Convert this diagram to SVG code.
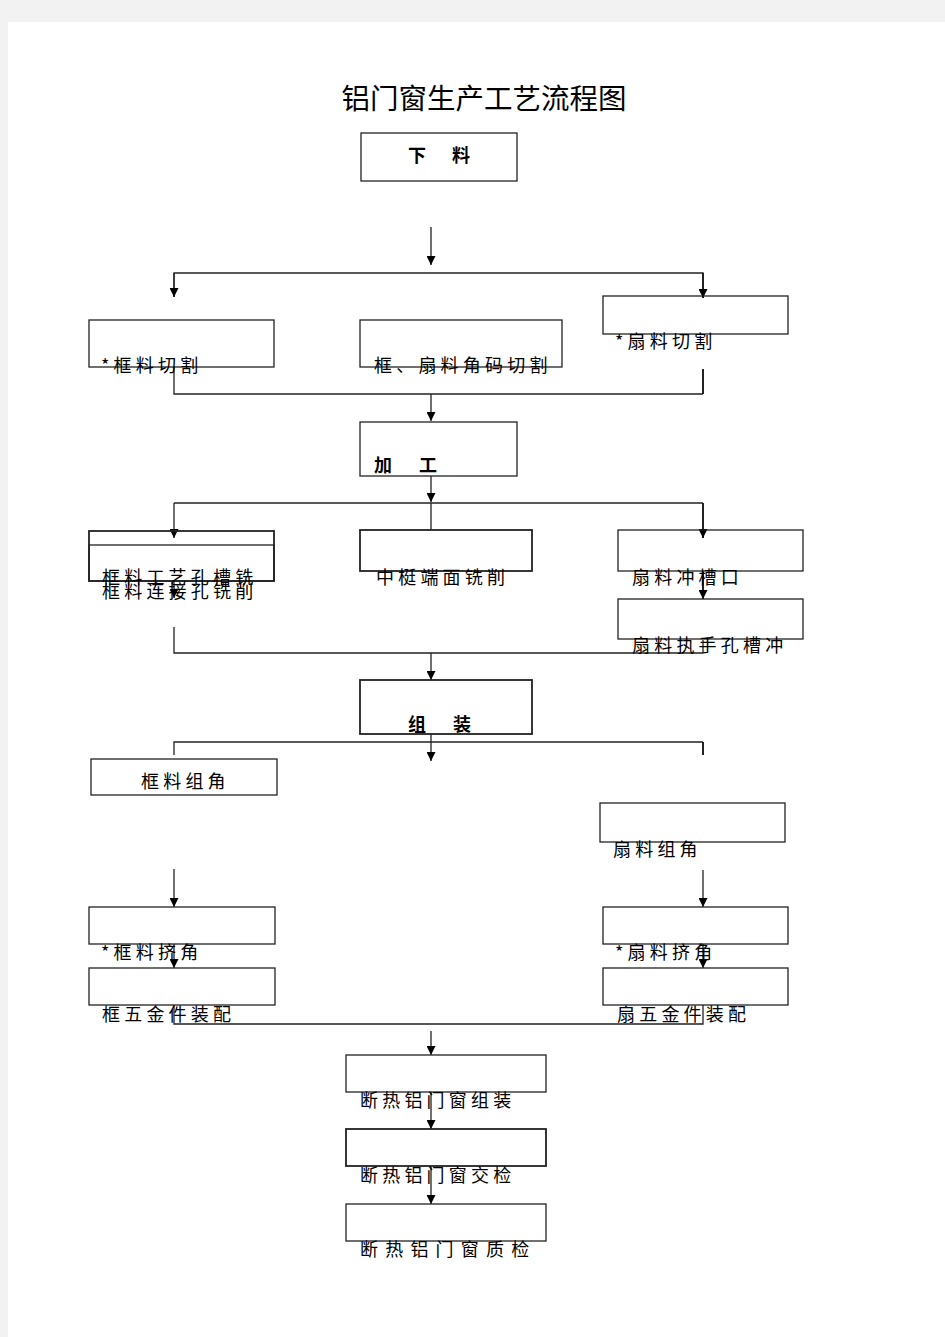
<svg xmlns="http://www.w3.org/2000/svg" width="945" height="1337" viewBox="0 0 945 1337">
<style>
.bx{fill:none;stroke:#222;stroke-width:1.3}
.ln{fill:none;stroke:#222;stroke-width:1.3}
.t{font-family:"Noto Sans CJK SC","Noto Sans CJK JP",sans-serif;font-size:18px;fill:#000;letter-spacing:4.2px}
.b{font-weight:bold;font-size:18px;letter-spacing:0}
.title{font-family:"Noto Sans CJK SC",sans-serif;font-size:28.5px;fill:#000}
</style>
<defs>
<marker id="ah" viewBox="0 0 10 10" refX="10" refY="5" markerWidth="12" markerHeight="9" orient="auto" markerUnits="userSpaceOnUse"><path d="M0,0 L10,5 L0,10 z" fill="#000"/></marker>
</defs>
<rect x="0" y="0" width="945" height="1337" fill="#f2f2f2"/>
<rect x="8" y="22" width="937" height="1315" fill="#fff"/>
<text class="title" x="484" y="109" text-anchor="middle">铝门窗生产工艺流程图</text>

<g id="connectors">
<line class="ln" x1="431" y1="227" x2="431" y2="265" marker-end="url(#ah)"/>
<polyline class="ln" points="174,297 174,273 703,273 703,297"/>
<line class="ln" x1="174" y1="273" x2="174" y2="297" marker-end="url(#ah)"/>
<line class="ln" x1="703" y1="273" x2="703" y2="298" marker-end="url(#ah)" style="stroke-width:2"/>
<polyline class="ln" points="174,367 174,394 703,394"/>
<line class="ln" x1="703" y1="369" x2="703" y2="394" style="stroke-width:2"/>
<line class="ln" x1="431" y1="394" x2="431" y2="421" marker-end="url(#ah)"/>
<line class="ln" x1="431" y1="476" x2="431" y2="502" marker-end="url(#ah)"/>
<polyline class="ln" points="174,503 703,503"/>
<line class="ln" x1="174" y1="503" x2="174" y2="538" marker-end="url(#ah)"/>
<line class="ln" x1="431" y1="503" x2="431" y2="530"/>
<line class="ln" x1="703" y1="503" x2="703" y2="538" marker-end="url(#ah)" style="stroke-width:2"/>
<line class="ln" x1="174" y1="581" x2="174" y2="598" marker-end="url(#ah)"/>
<line class="ln" x1="703" y1="571" x2="703" y2="599" marker-end="url(#ah)" style="stroke-width:2"/>
<polyline class="ln" points="174,627 174,653 703,653 703,640"/>
<line class="ln" x1="431" y1="653" x2="431" y2="680" marker-end="url(#ah)"/>
<line class="ln" x1="431" y1="734" x2="431" y2="761" marker-end="url(#ah)"/>
<polyline class="ln" points="174,755 174,742 703,742"/>
<line class="ln" x1="703" y1="742" x2="703" y2="755" style="stroke-width:2"/>
<line class="ln" x1="174" y1="869" x2="174" y2="907" marker-end="url(#ah)"/>
<line class="ln" x1="703" y1="870" x2="703" y2="907" marker-end="url(#ah)"/>
<line class="ln" x1="174" y1="944" x2="174" y2="968" marker-end="url(#ah)"/>
<line class="ln" x1="703" y1="944" x2="703" y2="968" marker-end="url(#ah)"/>
<polyline class="ln" points="174,1005 174,1024 703,1024 703,1005"/>
<line class="ln" x1="431" y1="1031" x2="431" y2="1055" marker-end="url(#ah)"/>
<line class="ln" x1="431" y1="1092" x2="431" y2="1129" marker-end="url(#ah)"/>
<line class="ln" x1="431" y1="1166" x2="431" y2="1204" marker-end="url(#ah)"/>
</g>

<g id="n-xialiao"><rect class="bx" x="361" y="133" width="156" height="48"/><text class="t b" x="408" y="162">下</text><text class="t b" x="452" y="162">料</text></g>
<g id="n-kuangqie"><rect class="bx" x="89" y="320" width="185" height="47"/><text class="t" x="101" y="372">*框料切割</text></g>
<g id="n-jiaoma"><rect class="bx" x="360" y="320" width="202" height="47"/><text class="t" x="374" y="372">框、扇料角码切割</text></g>
<g id="n-shanqie"><rect class="bx" x="603" y="296" width="185" height="38"/><text class="t" x="615" y="348">*扇料切割</text></g>
<g id="n-jiagong"><rect class="bx" x="360" y="422" width="157" height="54"/><text class="t b" x="374" y="472">加</text><text class="t b" x="419" y="472">工</text></g>
<g id="n-kuangxi"><rect class="bx" x="89" y="531" width="185" height="50" style="stroke-width:1.8"/><rect class="bx" x="89" y="545" width="185" height="36"/><text class="t" x="102" y="584">框料工艺孔槽铣</text><text class="t" x="102" y="598">框料连接孔铣削</text></g>
<g id="n-zhongting"><rect class="bx" x="360" y="530" width="172" height="41" style="stroke-width:1.8"/><text class="t" x="376" y="584">中梃端面铣削</text></g>
<g id="n-shanchong"><rect class="bx" x="618" y="530" width="185" height="41"/><text class="t" x="632" y="584">扇料冲槽口</text></g>
<g id="n-zhishou"><rect class="bx" x="618" y="599" width="185" height="40"/><text class="t" x="632" y="652">扇料执手孔槽冲</text></g>
<g id="n-zuzhuang"><rect class="bx" x="360" y="680" width="172" height="54" style="stroke-width:1.8"/><text class="t b" x="408" y="731">组</text><text class="t b" x="453" y="731">装</text></g>
<g id="n-kuangzujiao"><rect class="bx" x="91" y="759" width="186" height="36"/><text class="t" x="141" y="788">框料组角</text></g>
<g id="n-shanzujiao"><rect class="bx" x="600" y="803" width="185" height="39"/><text class="t" x="613" y="856">扇料组角</text></g>
<g id="n-kuangjijiao"><rect class="bx" x="89" y="907" width="186" height="37"/><text class="t" x="101" y="959">*框料挤角</text></g>
<g id="n-kuangwujin"><rect class="bx" x="89" y="968" width="186" height="37"/><text class="t" x="102" y="1021">框五金件装配</text></g>
<g id="n-shanjijiao"><rect class="bx" x="603" y="907" width="185" height="37"/><text class="t" x="615" y="959">*扇料挤角</text></g>
<g id="n-shanwujin"><rect class="bx" x="603" y="968" width="185" height="37"/><text class="t" x="617" y="1021">扇五金件装配</text></g>
<g id="n-zuzhuang2"><rect class="bx" x="346" y="1055" width="200" height="37"/><text class="t" x="360" y="1107">断热铝门窗组装</text></g>
<g id="n-jiaojian"><rect class="bx" x="346" y="1129" width="200" height="37" style="stroke-width:1.8"/><text class="t" x="360" y="1182">断热铝门窗交检</text></g>
<g id="n-zhijian"><rect class="bx" x="346" y="1204" width="200" height="37"/><text class="t" x="360" y="1256" style="letter-spacing:7.2px">断热铝门窗质检</text></g>
</svg>
